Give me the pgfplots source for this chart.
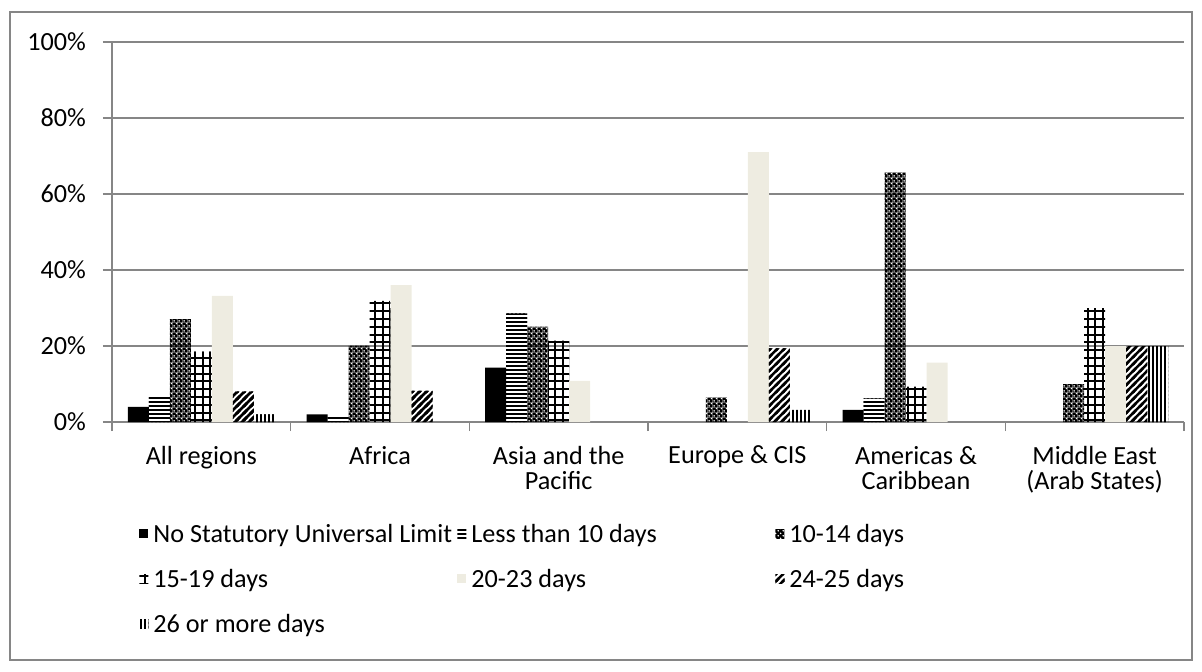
\documentclass[border=0pt]{standalone}
\usepackage{fontspec}
\setmainfont{Carlito}
\usepackage{pgfplots}
\pgfplotsset{compat=1.18}
\usetikzlibrary{patterns}

\definecolor{beige}{HTML}{EEECE1}
\definecolor{gridgray}{HTML}{868686}

% fill patterns for the bar series (drawn a little past each tile so no seams show)
\pgfdeclarepatternformonly{hstripes}{\pgfqpoint{-0.5pt}{-0.5pt}}{\pgfqpoint{2.5pt}{2.5pt}}{\pgfqpoint{2pt}{2pt}}{%
  \pgfpathrectangle{\pgfqpoint{-0.5pt}{0pt}}{\pgfqpoint{3pt}{1.05pt}}\pgfusepath{fill}}
\pgfdeclarepatternformonly{vstripes}{\pgfqpoint{-0.5pt}{-0.5pt}}{\pgfqpoint{2.5pt}{2.5pt}}{\pgfqpoint{2pt}{2pt}}{%
  \pgfpathrectangle{\pgfqpoint{0pt}{-0.5pt}}{\pgfqpoint{0.9pt}{3pt}}\pgfusepath{fill}}
\pgfdeclarepatternformonly{gridcells}{\pgfqpoint{-0.5pt}{-0.5pt}}{\pgfqpoint{4.1pt}{4.4pt}}{\pgfqpoint{3.6pt}{3.9pt}}{%
  \pgfpathrectangle{\pgfqpoint{0pt}{-0.5pt}}{\pgfqpoint{1pt}{4.9pt}}\pgfusepath{fill}%
  \pgfpathrectangle{\pgfqpoint{-0.5pt}{0pt}}{\pgfqpoint{4.6pt}{1pt}}\pgfusepath{fill}}
\pgfdeclarepatternformonly{diagstripes}{\pgfqpoint{-0.5pt}{-0.5pt}}{\pgfqpoint{4pt}{4pt}}{\pgfqpoint{3.5pt}{3.5pt}}{%
  \pgfsetlinewidth{1.25pt}%
  \pgfpathmoveto{\pgfqpoint{-1pt}{-1pt}}\pgfpathlineto{\pgfqpoint{4.5pt}{4.5pt}}%
  \pgfpathmoveto{\pgfqpoint{-4.5pt}{-1pt}}\pgfpathlineto{\pgfqpoint{1pt}{4.5pt}}%
  \pgfpathmoveto{\pgfqpoint{2.5pt}{-1pt}}\pgfpathlineto{\pgfqpoint{8pt}{4.5pt}}%
  \pgfusepath{stroke}}
\pgfdeclarepatternformonly{dotholes}{\pgfpointorigin}{\pgfqpoint{2.4pt}{2.4pt}}{\pgfqpoint{2.4pt}{2.4pt}}{%
  \pgfseteorule
  \pgfpathrectangle{\pgfqpoint{0pt}{0pt}}{\pgfqpoint{2.4pt}{2.4pt}}%
  \pgfpathcircle{\pgfqpoint{0.6pt}{0.6pt}}{0.55pt}%
  \pgfpathcircle{\pgfqpoint{1.8pt}{1.8pt}}{0.55pt}%
  \pgfusepath{fill}}

\newcommand\chartfont{\fontsize{13.1}{12.5}\selectfont}
\newcommand\lgbox[1]{\makebox[149pt][l]{#1}}

\pgfplotsset{
  sq/.style={draw=none, legend image code/.code={%
      \fill[##1] (0pt,-1.2pt) rectangle (4.5pt,3.3pt);}},
}

% share of countries by statutory minimum annual leave, by region (%)
% x: 0 All regions, 1 Africa, 2 Asia and the Pacific, 3 Europe & CIS,
%    4 Americas & Caribbean, 5 Middle East (Arab States); empty categories left out
\begin{document}
\begin{tikzpicture}
\useasboundingbox (-56pt,-124.5pt) rectangle (545pt,211pt);
\draw[gridgray, line width=0.6pt] (-51pt,-119pt) rectangle (540pt,205pt);
\begin{axis}[
  at={(0pt,0pt)}, anchor=south west,
  scale only axis, width=536pt, height=190pt,
  ybar=0pt, bar width=10.5pt,
  xmin=-0.5, xmax=5.5, ymin=0, ymax=100,
  axis x line*=bottom, axis y line*=left,
  axis line style={gridgray, line width=0.6pt, -},
  xtick={0,...,5},
  xticklabels={All regions, Africa, Asia and the\\Pacific, Europe \& CIS,
               Americas \&\\Caribbean, Middle East\\(Arab States)},
  minor xtick={-0.5,0.5,...,5.5},
  ytick={0,20,...,100},
  yticklabels={0\%,20\%,40\%,60\%,80\%,100\%},
  tick align=outside,
  major tick length=4.5pt, minor tick length=4.5pt,
  major x tick style={draw=none},
  minor x tick style={gridgray, line width=0.6pt},
  y tick style={gridgray, line width=0.6pt},
  ymajorgrids, major grid style={gridgray, line width=0.6pt},
  tick label style={font=\chartfont, text=black},
  xticklabel style={align=center, yshift=-4pt},
  yticklabel style={xshift=-5pt},
  legend columns=3,
  legend cell align=left,
  legend style={at={(0,0)}, anchor=north west, xshift=10.5pt, yshift=-49pt,
    draw=none, fill=none, font=\chartfont,
    nodes={inner sep=0pt, text height=9pt, text depth=2.5pt},
    /tikz/every odd column/.style={column sep=2.5pt},
    /tikz/every even column/.style={column sep=3pt},
    row sep=11pt},
]
\addplot[sq, fill=black] coordinates
  {(0,4.0) (1,2.0) (2,14.3) (4,3.2)};
\addlegendentry{\lgbox{No Statutory Universal Limit}}
\addplot[sq, pattern=hstripes] coordinates
  {(0,7.1) (1,1.7) (2,28.6) (4,6.2)};
\addlegendentry{\lgbox{Less than 10 days}}
\addplot[sq, pattern=dotholes] coordinates
  {(0,27.1) (1,20.1) (2,25.1) (3,6.5) (4,65.7) (5,10.0)};
\addlegendentry{\lgbox{10-14 days}}
\addplot[sq, pattern=gridcells] coordinates
  {(0,18.5) (1,31.9) (2,21.4) (4,9.3) (5,30.0)};
\addlegendentry{\lgbox{15-19 days}}
\addplot[sq, fill=beige] coordinates
  {(0,33.2) (1,36.0) (2,10.8) (3,71.0) (4,15.6) (5,20.0)};
\addlegendentry{\lgbox{20-23 days}}
\addplot[sq, pattern=diagstripes] coordinates
  {(0,8.0) (1,8.2) (3,19.4) (5,20.0)};
\addlegendentry{\lgbox{24-25 days}}
\addplot[sq, pattern=vstripes] coordinates
  {(0,2.0) (3,3.2) (5,20.0)};
\addlegendentry{\lgbox{26 or more days}}
\end{axis}
\end{tikzpicture}
\end{document}
